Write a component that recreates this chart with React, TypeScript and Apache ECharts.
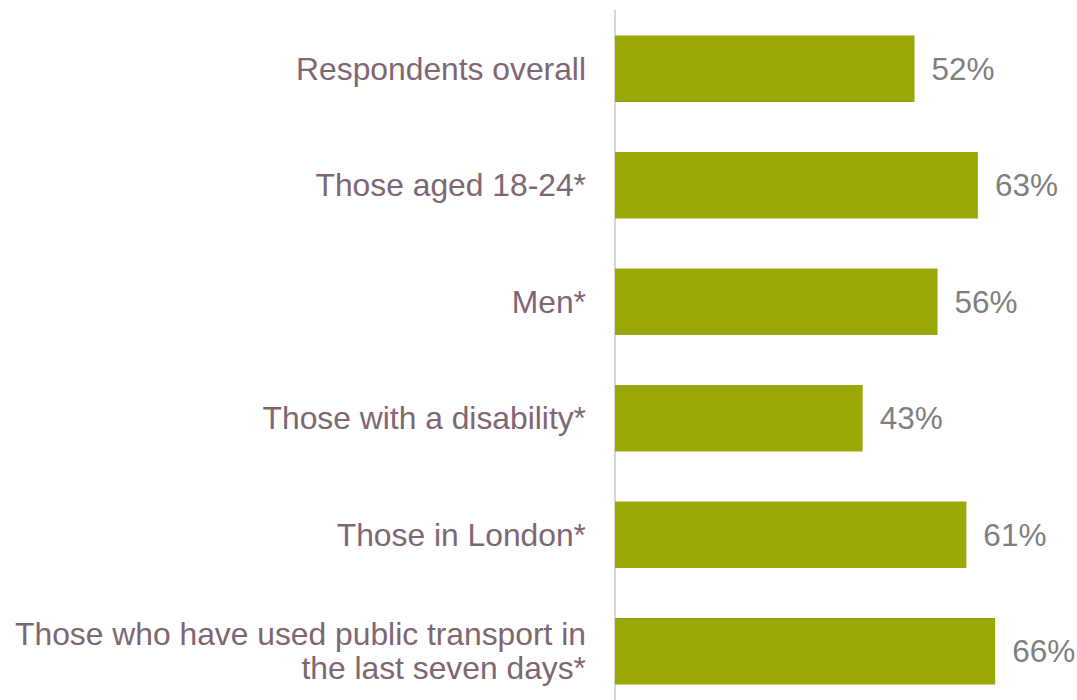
import React, { useEffect, useRef } from "react";
import * as echarts from "echarts";

const categories = [
  "Respondents overall",
  "Those aged 18-24*",
  "Men*",
  "Those with a disability*",
  "Those in London*",
  "Those who have used public transport in\nthe last seven days*",
];
const values = [52, 63, 56, 43, 61, 66];

export default function App() {
  const ref = useRef<HTMLDivElement>(null);
  useEffect(() => {
    if (!ref.current) return;
    const chart = echarts.init(ref.current, null, { renderer: "svg" });
    chart.setOption({
      animation: false,
      backgroundColor: "#ffffff",
      grid: { left: 615, top: 10.5, height: 699, width: 80 * 5.76 },
      xAxis: {
        type: "value",
        min: 0,
        max: 80,
        show: false,
      },
      yAxis: {
        type: "category",
        inverse: true,
        data: categories,
        axisLine: { show: true, lineStyle: { color: "#ddd3d7", width: 2 } },
        axisTick: { show: false },
        axisLabel: {
          color: "#7e6672",
          fontFamily: "Liberation Sans, Arial, sans-serif",
          fontSize: 31.8,
          margin: 29,
          lineHeight: 34,
          align: "right",
        },
      },
      series: [
        {
          type: "bar",
          data: values,
          barCategoryGap: "43%",
          itemStyle: { color: "#99a805" },
          label: {
            show: true,
            position: "right",
            distance: 17,
            formatter: "{c}%",
            color: "#7f7f7f",
            fontFamily: "Liberation Sans, Arial, sans-serif",
            fontSize: 31.5,
          },
        },
      ],
    });
    return () => chart.dispose();
  }, []);
  return (
    <div
      ref={ref}
      style={{ position: "fixed", left: 0, top: 0, width: 1077, height: 720 }}
    />
  );
}
